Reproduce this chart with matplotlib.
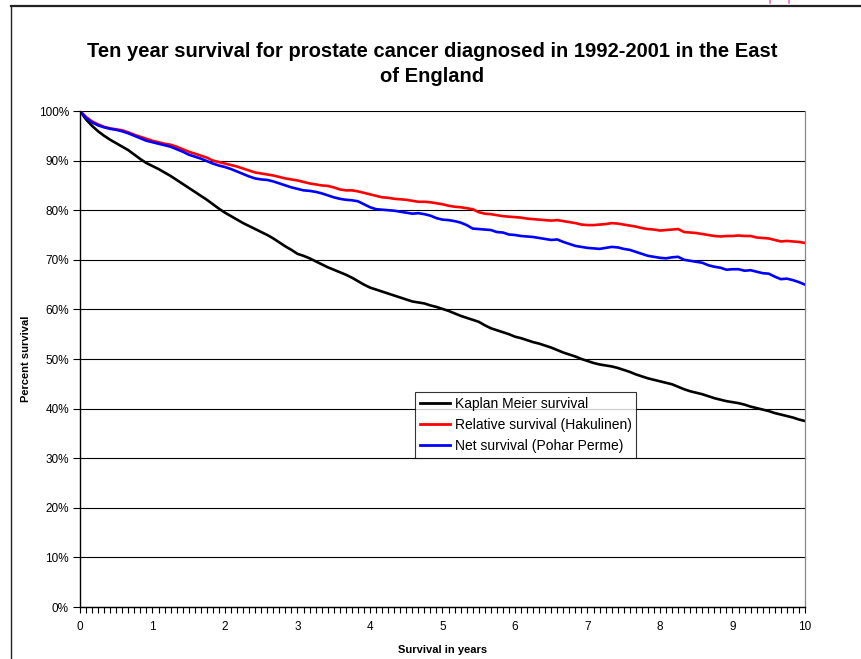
import matplotlib
matplotlib.use("Agg")
import matplotlib.pyplot as plt
from matplotlib.lines import Line2D
import numpy as np

plt.rcParams['font.family'] = ['Liberation Sans', 'DejaVu Sans']

# months 0..120
months = list(range(121))

kaplan_meier = [
    100, 98.3, 97.0, 95.9, 95.0, 94.2, 93.5, 92.8, 92.1, 91.2, 90.3, 89.5, 88.9,
    88.3, 87.6, 86.9, 86.1, 85.3, 84.5, 83.7, 82.9, 82.1, 81.2, 80.3, 79.5,
    78.8, 78.1, 77.4, 76.8, 76.2, 75.6, 75.0, 74.3, 73.5, 72.7, 72.0, 71.2,
    70.8, 70.3, 69.7, 69.1, 68.5, 68.0, 67.5, 67.0, 66.4, 65.7, 65.0, 64.4,
    64.0, 63.6, 63.2, 62.8, 62.4, 62.0, 61.6, 61.4, 61.2, 60.8, 60.5, 60.1,
    59.7, 59.2, 58.7, 58.3, 57.9, 57.5, 56.8, 56.2, 55.8, 55.4, 55.0, 54.5,
    54.2, 53.8, 53.4, 53.1, 52.7, 52.3, 51.8, 51.3, 50.9, 50.5, 50.0, 49.6,
    49.2, 48.9, 48.7, 48.5, 48.2, 47.8, 47.4, 46.9, 46.5, 46.1, 45.8, 45.5,
    45.2, 44.9, 44.4, 43.9, 43.5, 43.2, 42.9, 42.5, 42.1, 41.8, 41.5, 41.3,
    41.1, 40.8, 40.4, 40.1, 39.8, 39.5, 39.1, 38.8, 38.5, 38.2, 37.8, 37.5,
]

relative_hakulinen = [
    100, 98.8, 97.9, 97.3, 96.8, 96.5, 96.3, 96.1, 95.7, 95.2, 94.8, 94.4, 94.0,
    93.7, 93.4, 93.2, 92.8, 92.3, 91.8, 91.4, 91.0, 90.6, 90.0, 89.7, 89.4,
    89.1, 88.8, 88.4, 88.0, 87.6, 87.4, 87.2, 87.0, 86.7, 86.4, 86.2, 86.0,
    85.7, 85.4, 85.2, 85.0, 84.9, 84.6, 84.2, 84.0, 84.0, 83.8, 83.5, 83.2,
    82.9, 82.6, 82.5, 82.3, 82.2, 82.1, 81.9, 81.7, 81.7, 81.6, 81.4, 81.2,
    80.9, 80.7, 80.6, 80.4, 80.2, 79.6, 79.3, 79.2, 79.0, 78.8, 78.7, 78.6,
    78.5, 78.3, 78.2, 78.1, 78.0, 77.9, 78.0, 77.8, 77.6, 77.4, 77.1, 77.0,
    77.0, 77.1, 77.2, 77.4, 77.3, 77.1, 76.9, 76.7, 76.4, 76.2, 76.1, 75.9,
    76.0, 76.1, 76.2, 75.6, 75.5, 75.4, 75.2, 75.0, 74.8, 74.7, 74.8, 74.8,
    74.9, 74.8, 74.8, 74.5, 74.4, 74.3, 74.0, 73.7, 73.8, 73.7, 73.6, 73.4,
]

net_pohar_perme = [
    100, 98.6, 97.7, 97.1, 96.7, 96.4, 96.2, 95.9, 95.5, 95.0, 94.5, 94.0, 93.7,
    93.4, 93.1, 92.8, 92.3, 91.8, 91.2, 90.8, 90.4, 89.9, 89.4, 89.0, 88.7,
    88.3, 87.8, 87.3, 86.8, 86.4, 86.2, 86.1, 85.8, 85.4, 85.0, 84.6, 84.3,
    84.0, 83.9, 83.7, 83.4, 83.0, 82.6, 82.3, 82.1, 82.0, 81.8, 81.2, 80.6,
    80.2, 80.1, 80.0, 79.9, 79.7, 79.5, 79.3, 79.4, 79.2, 78.9, 78.4, 78.1,
    78.0, 77.8, 77.5, 77.0, 76.3, 76.2, 76.1, 76.0, 75.6, 75.5, 75.1, 75.0,
    74.8, 74.7, 74.6, 74.4, 74.2, 74.0, 74.1, 73.6, 73.2, 72.8, 72.6, 72.4,
    72.3, 72.2, 72.4, 72.6, 72.5, 72.2, 72.0, 71.6, 71.2, 70.8, 70.6, 70.4,
    70.3, 70.5, 70.6, 70.0, 69.8, 69.6, 69.4, 68.9, 68.6, 68.4, 68.0, 68.1,
    68.1, 67.8, 67.9, 67.6, 67.3, 67.2, 66.6, 66.1, 66.2, 65.9, 65.5, 65.0,
]

series_names = ["Kaplan Meier survival", "Relative survival (Hakulinen)",
                "Net survival (Pohar Perme)"]
series_colors = ["#000000", "#ff0000", "#0000ff"]

year_ticks = list(range(11))
pct_ticks = list(range(0, 101, 10))

title = "Ten year survival for prostate cancer diagnosed in 1992-2001 in the East\nof England"

W, H = 862, 659
fig = plt.figure(figsize=(W / 100, H / 100), dpi=100)
ax = fig.add_axes([80 / W, 1 - 607 / H, (805 - 80) / W, (607 - 111) / H])

years = np.array(months) / 12.0
for vals, name, col in zip([kaplan_meier, relative_hakulinen, net_pohar_perme],
                           series_names, series_colors):
    ax.plot(years, vals, color=col, lw=1.9, label=name, solid_joinstyle='round')

ax.set_xlim(0, 10)
ax.set_ylim(0, 100)
ax.set_yticks(pct_ticks)
ax.set_yticklabels([f"{p}%" for p in pct_ticks])
ax.set_xticks(year_ticks)
ax.set_xticklabels([str(y) for y in year_ticks])
ax.set_xticks(years, minor=True)
ax.tick_params(axis='x', which='both', direction='out', length=4, width=0.8,
               labelsize=8.5, pad=6)
ax.tick_params(axis='y', which='major', direction='out', length=5, width=0.8,
               labelsize=8.5, pad=3)
ax.grid(axis='y', color='#000000', lw=0.8)
ax.set_axisbelow(True)
ax.spines['top'].set_visible(False)
ax.spines['right'].set_color('#888888')
ax.spines['right'].set_linewidth(0.9)
ax.spines['left'].set_linewidth(1.0)
ax.spines['bottom'].set_linewidth(1.0)

ax.set_xlabel("Survival in years", fontsize=8, fontweight='bold')
ax.xaxis.set_label_coords(0.5, -(645 - 607) / (607 - 111))
ax.set_ylabel("Percent survival", fontsize=8, fontweight='bold')
ax.yaxis.set_label_coords(-(80 - 31) / (805 - 80), 0.5)

fig.text(432 / W, 1 - 64 / H, title, ha='center', va='center',
         fontsize=14.5, fontweight='bold', linespacing=1.45)

leg = ax.legend(loc='upper left', bbox_to_anchor=(415 / W, 1 - 392 / H),
                bbox_transform=fig.transFigure, frameon=True, fancybox=False,
                fontsize=10.0, handlelength=2.2, handletextpad=0.3,
                borderpad=0.35, labelspacing=0.5, borderaxespad=0)
leg.get_frame().set_edgecolor('#000000')
leg.get_frame().set_linewidth(0.8)
for l in leg.get_lines():
    l.set_linewidth(2.0)

# outer chart frame (partially visible)
fig.add_artist(Line2D([11 / W, 1], [1 - 6 / H, 1 - 6 / H], transform=fig.transFigure,
                      color='#222222', lw=1.6))
fig.add_artist(Line2D([11 / W, 11 / W], [0, 1 - 6 / H], transform=fig.transFigure,
                      color='#222222', lw=1.0))
# fragments of text cut off above the picture (magenta)
for xm in (770, 789):
    fig.add_artist(Line2D([xm / W, xm / W], [1, 1 - 3 / H], transform=fig.transFigure,
                          color='#e070d8', lw=1.2))

fig.savefig("out.png", dpi=100)
